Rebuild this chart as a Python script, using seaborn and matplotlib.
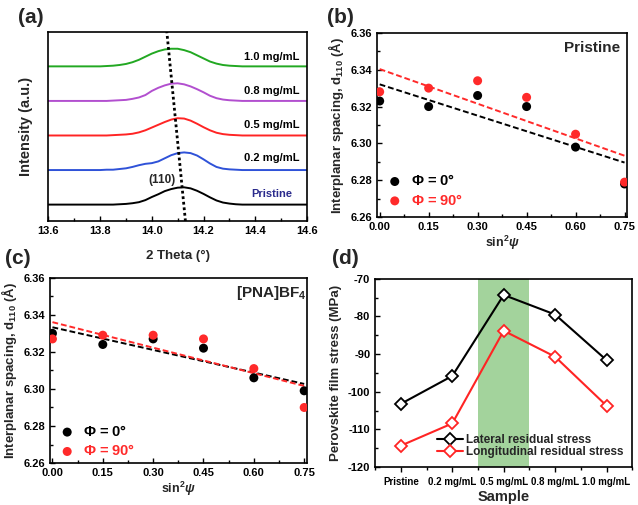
import numpy as np
import pandas as pd
import seaborn as sns
import matplotlib.pyplot as plt
from matplotlib.ticker import MultipleLocator

# ---- (a) XRD (110) peaks, intensity above each baseline (a.u.) ----
two_theta = [13.6, 13.8, 13.825, 13.85, 13.875, 13.9, 13.925, 13.95, 13.975, 14.0,
             14.025, 14.05, 14.075, 14.1, 14.125, 14.15, 14.175, 14.2, 14.225,
             14.25, 14.275, 14.3, 14.325, 14.35, 14.375, 14.4, 14.6]
xrd_pristine = [0, 0, 0, 0, .01, .02, .04, .07, .13, .22, .30, .39, .45, .49, .50,
                .47, .40, .31, .21, .12, .06, .03, .01, 0, 0, 0, 0]
xrd_02 = [0, 0, .01, .01, .03, .05, .09, .14, .18, .20, .25, .34, .43, .49, .51,
          .49, .42, .31, .19, .09, .04, .02, .01, 0, 0, 0, 0]
xrd_05 = [0, 0, 0, .01, .02, .03, .05, .09, .15, .23, .31, .39, .46, .50, .49,
          .43, .34, .24, .15, .08, .04, .02, .01, 0, 0, 0, 0]
xrd_08 = [0, 0, 0, .01, .02, .03, .06, .10, .17, .29, .38, .45, .50, .51, .48,
          .42, .34, .25, .15, .08, .04, .02, .01, 0, 0, 0, 0]
xrd_10 = [0, 0, .01, .02, .04, .07, .12, .19, .28, .37, .44, .49, .51, .51, .47,
          .41, .32, .23, .14, .08, .04, .02, .01, 0, 0, 0, 0]
xrd_labels = ['Pristine', '0.2 mg/mL', '0.5 mg/mL', '0.8 mg/mL', '1.0 mg/mL']
xrd_colors = ['black', '#2f52d8', '#ff2424', '#b24fcf', '#22a822']
peak_guide_x = [14.13, 14.058]

# ---- (b), (c) sin^2(psi) data ----
sin2psi = [0.0, 0.15, 0.30, 0.45, 0.60, 0.75]
pristine_phi0 = [6.323, 6.320, 6.326, 6.320, 6.298, 6.278]
pristine_phi90 = [6.328, 6.330, 6.334, 6.325, 6.305, 6.279]
pna_phi0 = [6.330, 6.324, 6.327, 6.322, 6.306, 6.299]
pna_phi90 = [6.327, 6.329, 6.329, 6.327, 6.311, 6.290]

# ---- (d) residual stress ----
samples = ['Pristine', '0.2 mg/mL', '0.5 mg/mL', '0.8 mg/mL', '1.0 mg/mL']
lateral = [-103.2, -95.8, -74.3, -79.5, -91.6]
longitudinal = [-114.3, -108.4, -83.8, -90.7, -103.7]

sns.set_theme(style='ticks')
plt.rcParams['font.family'] = ['Liberation Sans', 'DejaVu Sans']
plt.rcParams['font.weight'] = 'bold'
plt.rcParams['axes.labelweight'] = 'bold'
plt.rcParams['axes.unicode_minus'] = False
plt.rcParams['mathtext.fontset'] = 'custom'
plt.rcParams['mathtext.rm'] = 'Liberation Sans:bold'
plt.rcParams['mathtext.it'] = 'Liberation Sans:bold:italic'
plt.rcParams['mathtext.bf'] = 'Liberation Sans:bold'
plt.rcParams['mathtext.default'] = 'rm'
plt.rcParams['axes.linewidth'] = 1.2
plt.rcParams['axes.edgecolor'] = 'black'

fig = plt.figure(figsize=(6.38, 5.05), dpi=100)
ax_a = fig.add_axes([0.076, 0.562, 0.405, 0.375])
ax_b = fig.add_axes([0.591, 0.570, 0.392, 0.365])
ax_c = fig.add_axes([0.078, 0.083, 0.403, 0.367])
ax_d = fig.add_axes([0.588, 0.075, 0.403, 0.373])


def style_ticks(ax, direction='in'):
    ax.tick_params(which='both', direction=direction, labelsize=8, width=1,
                   colors='black', top=False, right=False)
    ax.tick_params(which='major', length=3.5)
    ax.tick_params(which='minor', length=2)
    for lab in ax.get_xticklabels() + ax.get_yticklabels():
        lab.set_fontweight('bold')


# ---------- (a) ----------
offsets = [0, 1, 2, 3, 4]
curves = [xrd_pristine, xrd_02, xrd_05, xrd_08, xrd_10]
for k, (vals, col) in enumerate(zip(curves, xrd_colors)):
    df = pd.DataFrame({'x': two_theta, 'y': np.array(vals) + offsets[k]})
    sns.lineplot(data=df, x='x', y='y', ax=ax_a, color=col, lw=1.4)
ylo, yhi = -0.48, 5.0
ax_a.plot(peak_guide_x, [ylo, yhi], color='black', ls=(0, (1, 1)), lw=2.0)
label_y = [0.30, 1.36, 2.30, 3.30, 4.28]
for k, lab in enumerate(xrd_labels):
    ax_a.text(14.465, label_y[k], lab, fontsize=8, ha='center', va='center',
              color='#2a2a8c' if lab == 'Pristine' else 'black')
ax_a.text(14.04, 0.72, '(110)', fontsize=8.5, ha='center', va='center')
ax_a.set_xlim(13.6, 14.6)
ax_a.set_ylim(ylo, yhi)
ax_a.set_yticks([])
ax_a.xaxis.set_major_locator(MultipleLocator(0.2))
ax_a.xaxis.set_minor_locator(MultipleLocator(0.1))
ax_a.set_xlabel('2 Theta (°)', fontsize=9.5, labelpad=10)
ax_a.set_ylabel('Intensity (a.u.)', fontsize=10.5, labelpad=11)
style_ticks(ax_a)


# ---------- (b), (c) ----------
def strain_panel(ax, y0, y90, tag, leg_y):
    sns.regplot(x=sin2psi, y=y0, ax=ax, scatter=False, ci=None, color='black',
                line_kws=dict(ls='--', lw=1.4, dashes=(3, 1.5)))
    sns.regplot(x=sin2psi, y=y90, ax=ax, scatter=False, ci=None, color='#ff2a2a',
                line_kws=dict(ls='--', lw=1.4, dashes=(3, 1.5)))
    sns.scatterplot(x=sin2psi, y=y0, ax=ax, color='black', s=42, edgecolor='none',
                    label=r'$\mathit{\Phi}$ = 0°', zorder=3)
    sns.scatterplot(x=sin2psi, y=y90, ax=ax, color='#ff2a2a', s=42, edgecolor='none',
                    label=r'$\mathit{\Phi}$ = 90°', zorder=3)
    leg = ax.legend(loc='lower left', bbox_to_anchor=(-0.04, leg_y), frameon=False,
                    fontsize=10.5, handletextpad=0.1, labelspacing=0.3,
                    markerscale=1.0)
    for txt, col in zip(leg.get_texts(), ['black', '#ff2a2a']):
        txt.set_color(col)
    ax.text(0.86, 0.92, tag, transform=ax.transAxes, fontsize=11,
            ha='center', va='center')
    ax.set_xlim(-0.008, 0.758)
    ax.set_ylim(6.26, 6.36)
    ax.xaxis.set_minor_locator(MultipleLocator(0.075))
    ax.yaxis.set_minor_locator(MultipleLocator(0.01))
    ax.set_xticks(sin2psi)
    ax.set_xticklabels([f'{v:.2f}' for v in sin2psi])
    ax.set_yticks([6.26, 6.28, 6.30, 6.32, 6.34, 6.36])
    ax.set_yticklabels([f'{v:.2f}' for v in [6.26, 6.28, 6.30, 6.32, 6.34, 6.36]])
    ax.set_xlabel(r'sin$^2\mathit{\psi}$', fontsize=9, labelpad=1)
    ax.set_ylabel(r'Interplanar spacing, d$_{110}$ (Å)', fontsize=9.5, labelpad=3)
    style_ticks(ax)


strain_panel(ax_b, pristine_phi0, pristine_phi90, 'Pristine', -0.02)
strain_panel(ax_c, pna_phi0, pna_phi90, r'[PNA]BF$_4$', -0.045)

# ---------- (d) ----------
pos = np.arange(len(samples))
ax_d.axvspan(1.5, 2.5, color='#a3d39c', lw=0, zorder=0)
stress = pd.DataFrame({'pos': np.concatenate([pos, pos]),
                       'stress': lateral + longitudinal,
                       'kind': ['Lateral residual stress'] * 5 +
                               ['Longitudinal residual stress'] * 5})
sns.lineplot(data=stress, x='pos', y='stress', hue='kind',
             palette=['black', '#ff2424'], marker='D', markersize=6.5,
             markerfacecolor='white', markeredgewidth=1.3, lw=1.5, ax=ax_d)
for ln, col in zip(ax_d.lines, ['black', '#ff2424']):
    ln.set_markeredgecolor(col)
h, l = ax_d.get_legend_handles_labels()
for hh, col in zip(h, ['black', '#ff2424']):
    hh.set_markeredgecolor(col)
    hh.set_markerfacecolor('white')
ax_d.legend(h, l, loc='lower left', bbox_to_anchor=(0.2, -0.01), frameon=False,
            fontsize=8.5, handlelength=2.2, handletextpad=0.2, labelspacing=0.05)
ax_d.set_xlim(-0.5, 4.5)
ax_d.set_ylim(-120, -70)
ax_d.set_xticks(pos)
ax_d.set_xticklabels(samples)
ax_d.xaxis.set_minor_locator(MultipleLocator(0.5))
ax_d.yaxis.set_major_locator(MultipleLocator(10))
ax_d.yaxis.set_minor_locator(MultipleLocator(5))
ax_d.set_xlabel('Sample', fontsize=10.5, labelpad=2)
ax_d.set_ylabel('Perovskite film stress (MPa)', fontsize=9.5, labelpad=4)
style_ticks(ax_d)
ax_d.tick_params(axis='x', which='both', direction='out', labelsize=7)

# panel letters
for x, y, s in [(0.028, 0.965, '(a)'), (0.512, 0.965, '(b)'),
                (0.008, 0.488, '(c)'), (0.521, 0.488, '(d)')]:
    fig.text(x, y, s, fontsize=15, ha='left', va='center')

fig.savefig('out.png', dpi=100)
